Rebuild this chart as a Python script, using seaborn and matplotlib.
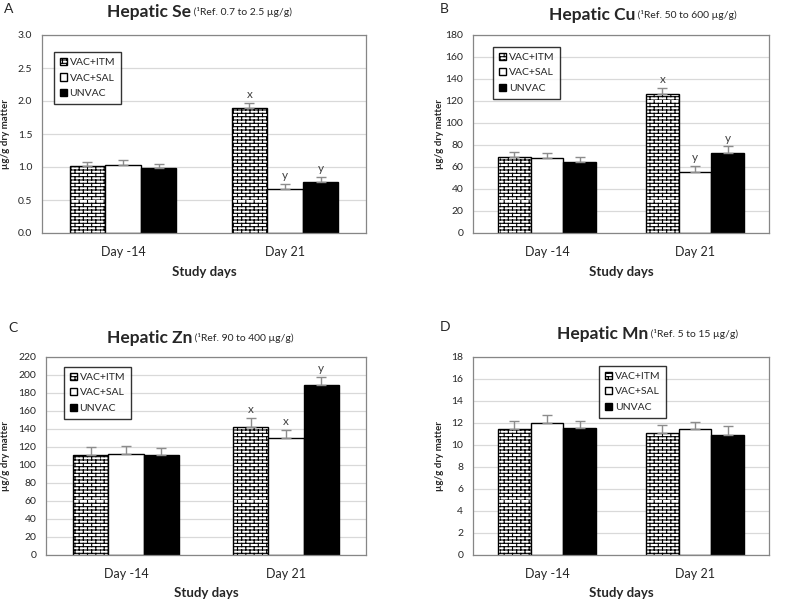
import warnings

import numpy as np
import pandas as pd
import seaborn as sns
import matplotlib
matplotlib.use("Agg")
import matplotlib.pyplot as plt
from matplotlib import hatch as mhatch
from matplotlib.path import Path

warnings.filterwarnings("ignore", message=".*hatch must consist.*")

# ---- data -------------------------------------------------------------
days = ["Day -14", "Day 21"]
groups = ["VAC+ITM", "VAC+SAL", "UNVAC"]

se_mean = {"VAC+ITM": [1.01, 1.90], "VAC+SAL": [1.03, 0.67], "UNVAC": [0.99, 0.77]}
se_sem = {"VAC+ITM": [0.06, 0.07], "VAC+SAL": [0.07, 0.07], "UNVAC": [0.06, 0.08]}
se_letters = {"VAC+ITM": ["", "x"], "VAC+SAL": ["", "y"], "UNVAC": ["", "y"]}

cu_mean = {"VAC+ITM": [68.7, 126.1], "VAC+SAL": [67.8, 55.7], "UNVAC": [64.4, 72.5]}
cu_sem = {"VAC+ITM": [5.0, 5.5], "VAC+SAL": [5.0, 5.4], "UNVAC": [4.8, 6.2]}
cu_letters = {"VAC+ITM": ["", "x"], "VAC+SAL": ["", "y"], "UNVAC": ["", "y"]}

zn_mean = {"VAC+ITM": [110.9, 142.0], "VAC+SAL": [112.4, 129.8], "UNVAC": [110.9, 188.5]}
zn_sem = {"VAC+ITM": [9.0, 10.5], "VAC+SAL": [9.2, 9.6], "UNVAC": [7.5, 9.7]}
zn_letters = {"VAC+ITM": ["", "x"], "VAC+SAL": ["", "x"], "UNVAC": ["", "y"]}

mn_mean = {"VAC+ITM": [11.45, 11.10], "VAC+SAL": [12.04, 11.45], "UNVAC": [11.52, 10.95]}
mn_sem = {"VAC+ITM": [0.72, 0.75], "VAC+SAL": [0.72, 0.65], "UNVAC": [0.65, 0.75]}
mn_letters = {"VAC+ITM": ["", ""], "VAC+SAL": ["", ""], "UNVAC": ["", ""]}

panels = [
    # letter, element, reference, mean, sem, letters, ymax, ystep, decimals
    ("A", "Hepatic Se", "(¹Ref. 0.7 to 2.5 µg/g)", se_mean, se_sem, se_letters, 3.0, 0.5, 1),
    ("B", "Hepatic Cu", "(¹Ref. 50 to 600 µg/g)", cu_mean, cu_sem, cu_letters, 180, 20, 0),
    ("C", "Hepatic Zn", "(¹Ref. 90 to 400 µg/g)", zn_mean, zn_sem, zn_letters, 220, 20, 0),
    ("D", "Hepatic Mn", "(¹Ref. 5 to 15 µg/g)", mn_mean, mn_sem, mn_letters, 18, 2, 0),
]


# ---- brick hatch (white bricks, black mortar) -------------------------
class BrickHatch(mhatch.HatchPatternBase):
    def __init__(self, hatch, density):
        n = hatch.count("b")
        self.rows = 30 if n else 0
        self.cols = 12
        self.num_vertices = self.rows * 2 * (1 + self.cols)

    def set_vertices_and_codes(self, vertices, codes):
        h = 1.0 / self.rows
        w = 1.0 / self.cols
        k = 0
        for r in range(self.rows):
            y = r * h
            vertices[k] = (0.0, y)
            vertices[k + 1] = (1.0, y)
            codes[k] = Path.MOVETO
            codes[k + 1] = Path.LINETO
            k += 2
            off = 0.5 * w if r % 2 else 0.0
            for c in range(self.cols):
                x = c * w + off
                vertices[k] = (x, y)
                vertices[k + 1] = (x, y + h)
                codes[k] = Path.MOVETO
                codes[k + 1] = Path.LINETO
                k += 2


mhatch._hatch_types.append(BrickHatch)

# ---- style ------------------------------------------------------------
sns.set_theme(style="white")
plt.rcParams["font.family"] = ["Lato", "DejaVu Sans"]
plt.rcParams["hatch.linewidth"] = 0.8
plt.rcParams["hatch.color"] = "black"

W, H = 798, 601
fig = plt.figure(figsize=(W / 100, H / 100), dpi=100)


def px(x, y):
    return x / W, 1 - y / H


# axes rectangles in pixels: left, top, right, bottom
rects = [(42, 35, 366, 233), (473, 35, 769, 233), (46, 357, 366, 555), (473, 357, 769, 555)]
letter_pos = [(4, 9), (440, 9), (8, 328), (440, 327)]
title_pos = [(107, 17), (549, 20), (107, 343), (557, 339)]
ylabel_x = [6, 439, 6, 439]
xlabel_y = [272, 272, 593, 593]
legend_anchor = [(0.037, 0.914), (0.068, 0.94), (0.056, 0.95), (0.426, 0.955)]

for i, (letter, elem, ref, mean, sem, lets, ymax, ystep, dec) in enumerate(panels):
    l, t, r, b = rects[i]
    ax = fig.add_axes([l / W, 1 - b / H, (r - l) / W, (b - t) / H])

    df = pd.DataFrame(
        [(d, g, mean[g][j]) for g in groups for j, d in enumerate(days)],
        columns=["day", "group", "value"],
    )
    sns.barplot(
        data=df, x="day", y="value", hue="group", order=days, hue_order=groups,
        palette=["white", "white", "black"], saturation=1, edgecolor="black",
        linewidth=1, width=0.66, errorbar=None, legend=False, ax=ax, zorder=2,
    )
    for bar in ax.containers[0]:
        bar.set_hatch("b")

    # one-sided SEM bars and significance letters
    for gi, g in enumerate(groups):
        for j, bar in enumerate(ax.containers[gi]):
            xc = bar.get_x() + bar.get_width() / 2
            top = bar.get_height()
            ax.errorbar(xc, top, yerr=[[0], [sem[g][j]]], fmt="none",
                        ecolor="#8c8c8c", elinewidth=1, capsize=3.5, capthick=1, zorder=3)
            if lets[g][j]:
                ax.annotate(lets[g][j], (xc, top + sem[g][j]), xytext=(0, 2),
                            textcoords="offset points", ha="center", va="bottom",
                            fontsize=8.5, color="#404040")

    ax.set_xlim(-0.5, 1.5)
    ax.set_ylim(0, ymax)
    ticks = np.arange(0, ymax + ystep / 2, ystep)
    ax.set_yticks(ticks)
    ax.set_yticklabels([f"{v:.{dec}f}" for v in ticks])
    ax.yaxis.grid(True, color="#d9d9d9", linewidth=0.9)
    ax.set_axisbelow(True)
    ax.tick_params(axis="both", length=0, colors="#262626")
    ax.tick_params(axis="x", pad=9, labelsize=9)
    ax.tick_params(axis="y", pad=7, labelsize=7.5)
    for s in ax.spines.values():
        s.set_color("#868686")
        s.set_linewidth(0.9)
    ax.set_xlabel("")
    ax.set_ylabel("")

    leg = ax.legend(ax.containers, groups, loc="upper left", bbox_to_anchor=legend_anchor[i],
                    frameon=True, fancybox=False, edgecolor="black", fontsize=7.5,
                    handlelength=0.7, handleheight=0.7, handletextpad=0.25,
                    labelspacing=0.6, borderpad=0.55, borderaxespad=0)
    leg.get_frame().set_linewidth(1.0)

    # panel texts
    fig.text(*px(*letter_pos[i]), letter, fontsize=10, va="center", ha="left", color="#262626")
    t1 = fig.text(*px(*title_pos[i]), elem, fontsize=12.5, fontweight="bold",
                  ha="left", va="baseline", color="#262626")
    ax.annotate(" " + ref, xy=(1, 0), xycoords=t1, xytext=(0, 2.5), textcoords="offset points",
                fontsize=7.5, ha="left", va="bottom", color="#262626")
    fig.text(*px(ylabel_x[i], (t + b) / 2), "µg/g dry matter", rotation=90, fontsize=7,
             fontweight="bold", ha="center", va="center", color="#262626")
    fig.text(*px((l + r) / 2, xlabel_y[i]), "Study days", fontsize=9.5, fontweight="bold",
             ha="center", va="center", color="#262626")

fig.savefig("out.png", dpi=100)
